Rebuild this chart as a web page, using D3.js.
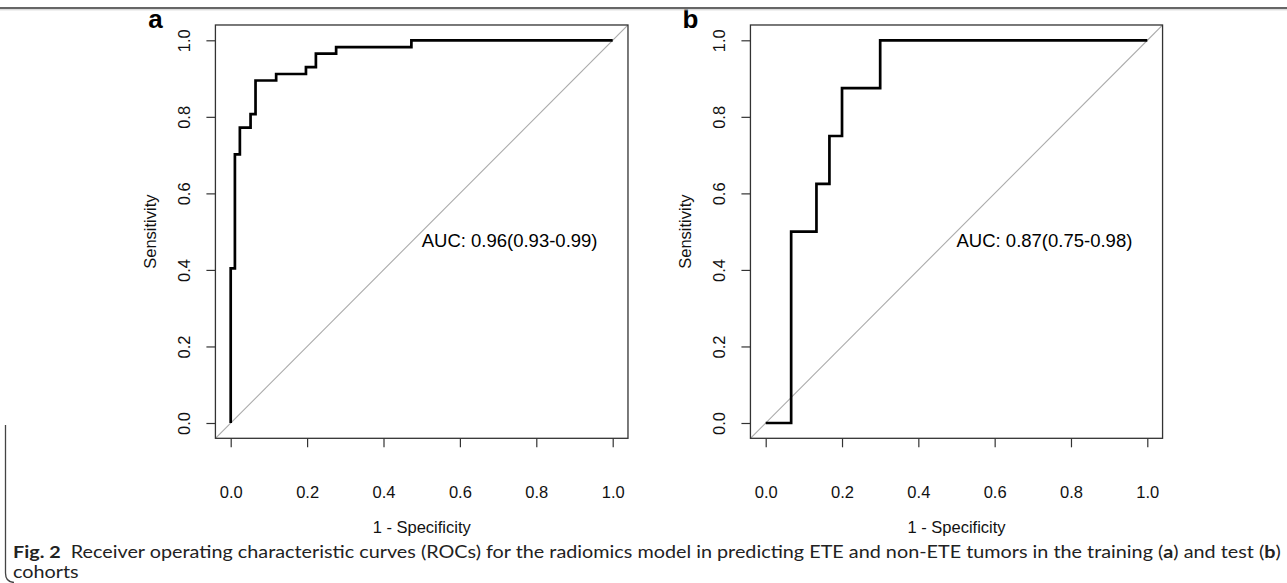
<!DOCTYPE html>
<html>
<head>
<meta charset="utf-8">
<script src="https://cdn.jsdelivr.net/npm/d3@7"></script>
<style>
  body { margin: 0; background: #fff; }
  svg { display: block; }
  .axis text { font-family: 'Liberation Sans', Arial, sans-serif; font-size: 16.5px; fill: #111; }
  .axis line { stroke: #333; stroke-width: 1.2px; }
</style>
</head>
<body>
<div id="chart"></div>
<script>
// ROC points (1 - specificity, sensitivity), training cohort
const fprTrain = [0, 0, 0.011, 0.024, 0.052, 0.065, 0.119, 0.197, 0.223, 0.276, 0.473, 1.0]
const tprTrain = [0, 0.404, 0.702, 0.772, 0.807, 0.895, 0.912, 0.930, 0.965, 0.982, 1.0, 1.0]

// test cohort
const fprTest = [0, 0.0667, 0.133, 0.167, 0.2, 0.3, 1.0]
const tprTest = [0, 0.5, 0.625, 0.75, 0.875, 1.0, 1.0]

const panelLetters = ['a', 'b']
const aucLabels = ['AUC: 0.96(0.93-0.99)', 'AUC: 0.87(0.75-0.98)']
const tickValues = [0, 0.2, 0.4, 0.6, 0.8, 1.0]
const xLabel = '1 - Specificity'
const yLabel = 'Sensitivity'

const width = 1287
const height = 583

const svg = d3
  .select('#chart')
  .append('svg')
  .attr('width', width)
  .attr('height', height)

// one y scale for both panels (R pads the range by 4%)
const yPositionScale = d3.scaleLinear().domain([0, 1]).range([423, 40.3])

const panels = [
  { letter: panelLetters[0], auc: aucLabels[0], fpr: fprTrain, tpr: tprTrain, range: [230.7, 612.7] },
  { letter: panelLetters[1], auc: aucLabels[1], fpr: fprTest, tpr: tprTest, range: [765.7, 1147.3] }
]

panels.forEach(drawPanel)

function drawPanel(p, i) {
  const xPositionScale = d3.scaleLinear().domain([0, 1]).range(p.range)
  const g = svg.append('g').attr('class', 'panel panel-' + i)

  const left = xPositionScale(-0.04)
  const right = xPositionScale(1.04)
  const top = yPositionScale(1.04)
  const bottom = yPositionScale(-0.04)

  g.append('clipPath')
    .attr('id', 'clip-' + i)
    .append('rect')
    .attr('x', left)
    .attr('y', top)
    .attr('width', right - left)
    .attr('height', bottom - top)

  // chance diagonal
  g.append('line')
    .attr('clip-path', 'url(#clip-' + i + ')')
    .attr('x1', xPositionScale(-0.04))
    .attr('y1', yPositionScale(-0.04))
    .attr('x2', xPositionScale(1.04))
    .attr('y2', yPositionScale(1.04))
    .attr('stroke', '#aaa')
    .attr('stroke-width', 1.1)

  const points = p.fpr.map((d, j) => [d, p.tpr[j]])
  const line = d3
    .line()
    .x(d => xPositionScale(d[0]))
    .y(d => yPositionScale(d[1]))
    .curve(d3.curveStepAfter)

  g.append('path')
    .datum(points)
    .attr('d', line)
    .attr('fill', 'none')
    .attr('stroke', '#000')
    .attr('stroke-width', 2.7)

  // box
  g.append('rect')
    .attr('x', left)
    .attr('y', top)
    .attr('width', right - left)
    .attr('height', bottom - top)
    .attr('fill', 'none')
    .attr('stroke', '#333')
    .attr('stroke-width', 1.3)

  const xAxis = d3
    .axisBottom(xPositionScale)
    .tickValues(tickValues)
    .tickSize(9)
    .tickFormat(d3.format('.1f'))

  g.append('g')
    .attr('class', 'axis x-axis')
    .attr('transform', 'translate(0,' + bottom + ')')
    .call(xAxis)
    .call(a => a.select('.domain').remove())
    .call(a => a.selectAll('text').attr('y', 60).attr('dy', 0))

  const yAxis = d3
    .axisLeft(yPositionScale)
    .tickValues(tickValues)
    .tickSize(9)
    .tickFormat(d3.format('.1f'))

  g.append('g')
    .attr('class', 'axis y-axis')
    .attr('transform', 'translate(' + left + ',0)')
    .call(yAxis)
    .call(a => a.select('.domain').remove())
    .call(a =>
      a.selectAll('text')
        .attr('x', 0)
        .attr('dy', '0.35em')
        .attr('text-anchor', 'middle')
        .attr('transform', 'translate(-31,0) rotate(-90)')
    )

  // axis titles
  g.append('text')
    .attr('x', (left + right) / 2)
    .attr('y', bottom + 95)
    .attr('text-anchor', 'middle')
    .attr('font-family', "'Liberation Sans', Arial, sans-serif")
    .attr('font-size', '16.5px')
    .attr('fill', '#111')
    .text(xLabel)

  g.append('text')
    .attr('text-anchor', 'middle')
    .attr('dy', '0.35em')
    .attr('transform', 'translate(' + (left - 65) + ',' + (top + bottom) / 2 + ') rotate(-90)')
    .attr('font-family', "'Liberation Sans', Arial, sans-serif")
    .attr('font-size', '16.5px')
    .attr('fill', '#111')
    .text(yLabel)

  // panel letter
  g.append('text')
    .attr('x', left - 60)
    .attr('y', 28)
    .attr('text-anchor', 'middle')
    .attr('font-family', "'Liberation Sans', Arial, sans-serif")
    .attr('font-weight', 'bold')
    .attr('font-size', '26px')
    .attr('fill', '#000')
    .text(p.letter)

  // AUC, top-left aligned at (0.5, 0.5)
  g.append('text')
    .attr('x', xPositionScale(0.5))
    .attr('y', yPositionScale(0.5) + 15)
    .attr('font-family', "'Liberation Sans', Arial, sans-serif")
    .attr('font-size', '18.5px')
    .attr('fill', '#000')
    .text(p.auc)
}

// frame of the figure
svg.append('line')
  .attr('x1', 0).attr('x2', width)
  .attr('y1', 8).attr('y2', 8)
  .attr('stroke', '#333').attr('stroke-width', 1.5)
svg.append('line')
  .attr('x1', 0).attr('x2', width)
  .attr('y1', 9.8).attr('y2', 9.8)
  .attr('stroke', '#ccc').attr('stroke-width', 1)
svg.append('path')
  .attr('d', 'M5.5,425 L5.5,573 Q5.5,582 14,582.5')
  .attr('fill', 'none')
  .attr('stroke', '#444')
  .attr('stroke-width', 1.3)

// caption, two lines as in the source
const captionFont = "Lato, 'Open Sans', sans-serif"
const capX = 13
const cap1 = svg.append('text')
  .attr('x', capX)
  .attr('y', 558)
  .attr('font-family', captionFont)
  .attr('font-size', '16.5px')
  .attr('fill', '#222')
cap1.append('tspan').attr('font-weight', 'bold').text('Fig. 2')
cap1.append('tspan').text('\u00a0\u00a0Receiver operating characteristic curves (ROCs) for the radiomics model in predicting ETE and non-ETE tumors in the training (')
cap1.append('tspan').attr('font-weight', 'bold').text('a')
cap1.append('tspan').text(') and test (')
cap1.append('tspan').attr('font-weight', 'bold').text('b')
cap1.append('tspan').text(')')

// squeeze to the width of the source line
const natural = cap1.node().getComputedTextLength()
const sx = (1281 - capX) / natural
const squeeze = 'translate(' + capX * (1 - sx) + ',0) scale(' + sx + ',1)'
cap1.attr('transform', squeeze)

svg.append('text')
  .attr('x', capX)
  .attr('y', 578)
  .attr('font-family', captionFont)
  .attr('font-size', '16.5px')
  .attr('fill', '#222')
  .attr('transform', squeeze)
  .text('cohorts')
</script>
</body>
</html>
